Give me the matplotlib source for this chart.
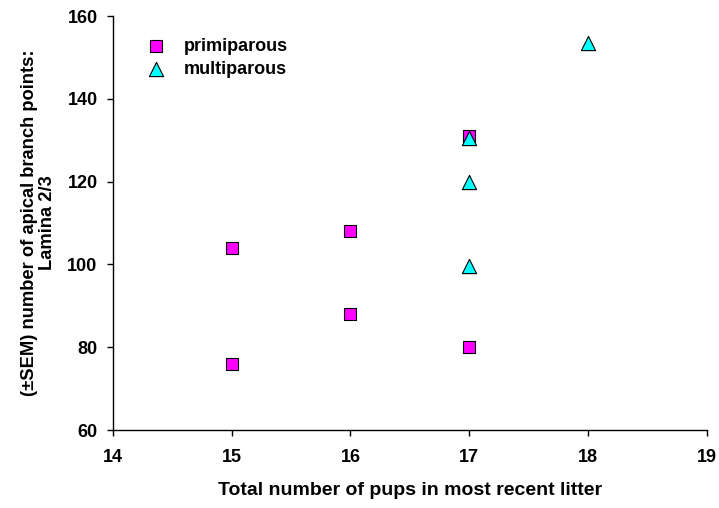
import matplotlib
matplotlib.use("Agg")
import matplotlib.pyplot as plt

# Pups in most recent litter vs. apical branch points (Lamina 2/3)
prim_pups = [15, 15, 16, 16, 17, 17]
prim_branch = [76, 104, 108, 88, 131, 80]
multi_pups = [17, 17, 17, 18]
multi_branch = [130.5, 120, 99.5, 153.5]

x_ticks = [14, 15, 16, 17, 18, 19]
y_ticks = [60, 80, 100, 120, 140, 160]

plt.rcParams['font.family'] = ['Liberation Sans', 'DejaVu Sans']
plt.rcParams['font.weight'] = 'bold'

fig = plt.figure(figsize=(7.19, 5.08), dpi=100)
ax = fig.add_axes([0.157, 0.1535, 0.826, 0.815])

ax.scatter(prim_pups, prim_branch, marker='s', s=85, c='#ff00ff',
           edgecolors='black', linewidths=0.8, label='primiparous', zorder=3)
ax.scatter(multi_pups, multi_branch, marker='^', s=105, c='#00ffff',
           edgecolors='black', linewidths=0.8, label='multiparous', zorder=4)

ax.set_xlim(14, 19)
ax.set_ylim(60, 160)
ax.set_xticks(x_ticks)
ax.set_yticks(y_ticks)
ax.tick_params(direction='out', length=4, width=1, labelsize=13)
ax.tick_params(axis='y', pad=7)
ax.tick_params(axis='x', pad=10)
for lab in ax.get_xticklabels() + ax.get_yticklabels():
    lab.set_fontweight('bold')

for side in ('top', 'right'):
    ax.spines[side].set_visible(False)
for side in ('left', 'bottom'):
    ax.spines[side].set_linewidth(1)

ax.set_xlabel('Total number of pups in most recent litter', fontsize=14,
              fontweight='bold', labelpad=11)
ax.set_ylabel('(\u00b1SEM) number of apical branch points:\nLamina 2/3',
              fontsize=13.2, fontweight='bold', labelpad=8, linespacing=1.1)

leg = ax.legend(loc='upper left', bbox_to_anchor=(0.03, 0.965), frameon=False,
                fontsize=13, handletextpad=0.55, borderaxespad=0, labelspacing=0.35)
for t in leg.get_texts():
    t.set_fontweight('bold')

fig.savefig('out.png', dpi=100)
